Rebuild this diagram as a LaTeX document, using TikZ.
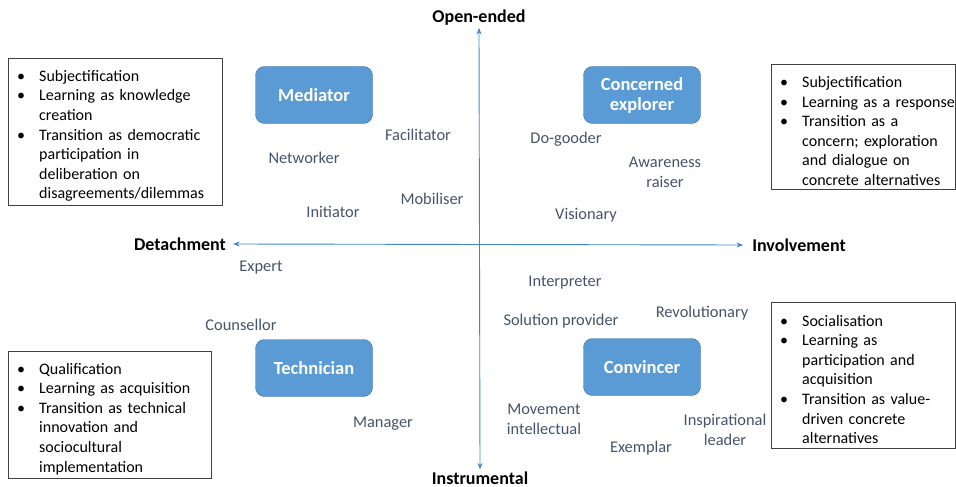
\documentclass[tikz,border=0pt]{standalone}
\usepackage{fontspec}
\setmainfont{Carlito}
\usetikzlibrary{arrows.meta}

\definecolor{rolefill}{HTML}{5B9BD5}
\definecolor{roledraw}{HTML}{41719C}
\definecolor{roletext}{HTML}{44546A}
\definecolor{axisblue}{HTML}{3F87CC}

% bullet item with hanging indent, lines broken by \newline
\newcommand{\bitem}{\par\noindent\hyphenpenalty=10000\relax
  \hangindent=28pt\hangafter=1%
  \makebox[28pt][l]{\hspace{6pt}\textbullet}}

\tikzset{
  rolebox/.style={draw=roledraw, fill=rolefill, rounded corners=9pt,
    minimum width=117pt, minimum height=57pt, text=white, align=center,
    font=\fontsize{18.5}{20}\selectfont\bfseries},
  role/.style={text=roletext, align=center, inner sep=0pt,
    font=\fontsize{16.4}{20}\selectfont},
  listbox/.style={draw=black!75, anchor=north west, inner xsep=3pt,
    font=\fontsize{16}{19.6}\selectfont, align=left},
  axislabel/.style={font=\fontsize{18}{20}\selectfont\bfseries, inner sep=2pt},
  axis/.style={draw=axisblue, line width=0.9pt, {Stealth[length=6.5pt,width=5pt]}-{Stealth[length=6.5pt,width=5pt]}}
}

\begin{document}
\begin{tikzpicture}[x=1pt,y=-1pt]
\useasboundingbox (0,0) rectangle (956,487);

% axes
\node[axislabel] (open) at (479,18) {Open-ended};
\node[axislabel] (instr) at (480,478) {Instrumental};
\node[axislabel] (detach) at (180,244) {Detachment};
\node[axislabel] (involve) at (799,245) {Involvement};
\draw[axis] (instr.north) -- (open.south);
\path (detach.east) ++(5,0) coordinate (lft) (involve.west) ++(-7,0) coordinate (rgt);
\draw[axis] (lft) -- (rgt);

% quadrant roles
\node[rolebox] (mediator) at (314,95) {Mediator};
\node[rolebox] (explorer) at (642,95) {Concerned\\explorer};
\node[rolebox] (technician) at (314,368) {Technician};
\node[rolebox] (convincer) at (642,367) {Convincer};

% open-ended / detachment
\node[role] (facilitator) at (418,135) {Facilitator};
\node[role] (networker) at (304,158) {Networker};
\node[role] (mobiliser) at (432,199) {Mobiliser};
\node[role] (initiator) at (333,212) {Initiator};

% open-ended / involvement
\node[role] (dogooder) at (566,139) {Do-gooder};
\node[role] (awareness) at (665,172) {Awareness\\raiser};
\node[role] (visionary) at (586,215) {Visionary};

% instrumental / detachment
\node[role] (expert) at (261,268) {Expert};
\node[role] (counsellor) at (241,325) {Counsellor};
\node[role] (manager) at (383,424) {Manager};

% instrumental / involvement
\node[role] (interpreter) at (565,283) {Interpreter};
\node[role] (solution) at (561,321) {Solution provider};
\node[role] (revolutionary) at (702,313) {Revolutionary};
\node[role] (movement) at (544,419) {Movement\\intellectual};
\node[role] (inspirational) at (725,430) {Inspirational\\leader};
\node[role] (exemplar) at (641,448) {Exemplar};

% lists per quadrant
\node[listbox, text width=208pt, minimum height=147pt] (mediatorlist) at (8,58) {%
  \bitem Subjectification
  \bitem Learning as knowledge\newline creation
  \bitem Transition as democratic\newline participation in\newline deliberation on\newline disagreements/dilemmas\par};
\node[listbox, text width=178pt, minimum height=125pt] (explorerlist) at (771,64) {%
  \bitem Subjectification
  \bitem \mbox{Learning as a response}
  \bitem Transition as a\newline concern; exploration\newline and dialogue on\newline concrete alternatives\par};
\node[listbox, text width=197pt, minimum height=126pt] (technicianlist) at (8,351) {%
  \bitem Qualification
  \bitem Learning as acquisition
  \bitem Transition as technical\newline innovation and\newline sociocultural\newline implementation\par};
\node[listbox, text width=178pt, minimum height=146pt] (convincerlist) at (771,302) {%
  \bitem Socialisation
  \bitem Learning as\newline participation and\newline acquisition
  \bitem Transition as value-\newline driven concrete\newline alternatives\par};
\end{tikzpicture}
\end{document}
